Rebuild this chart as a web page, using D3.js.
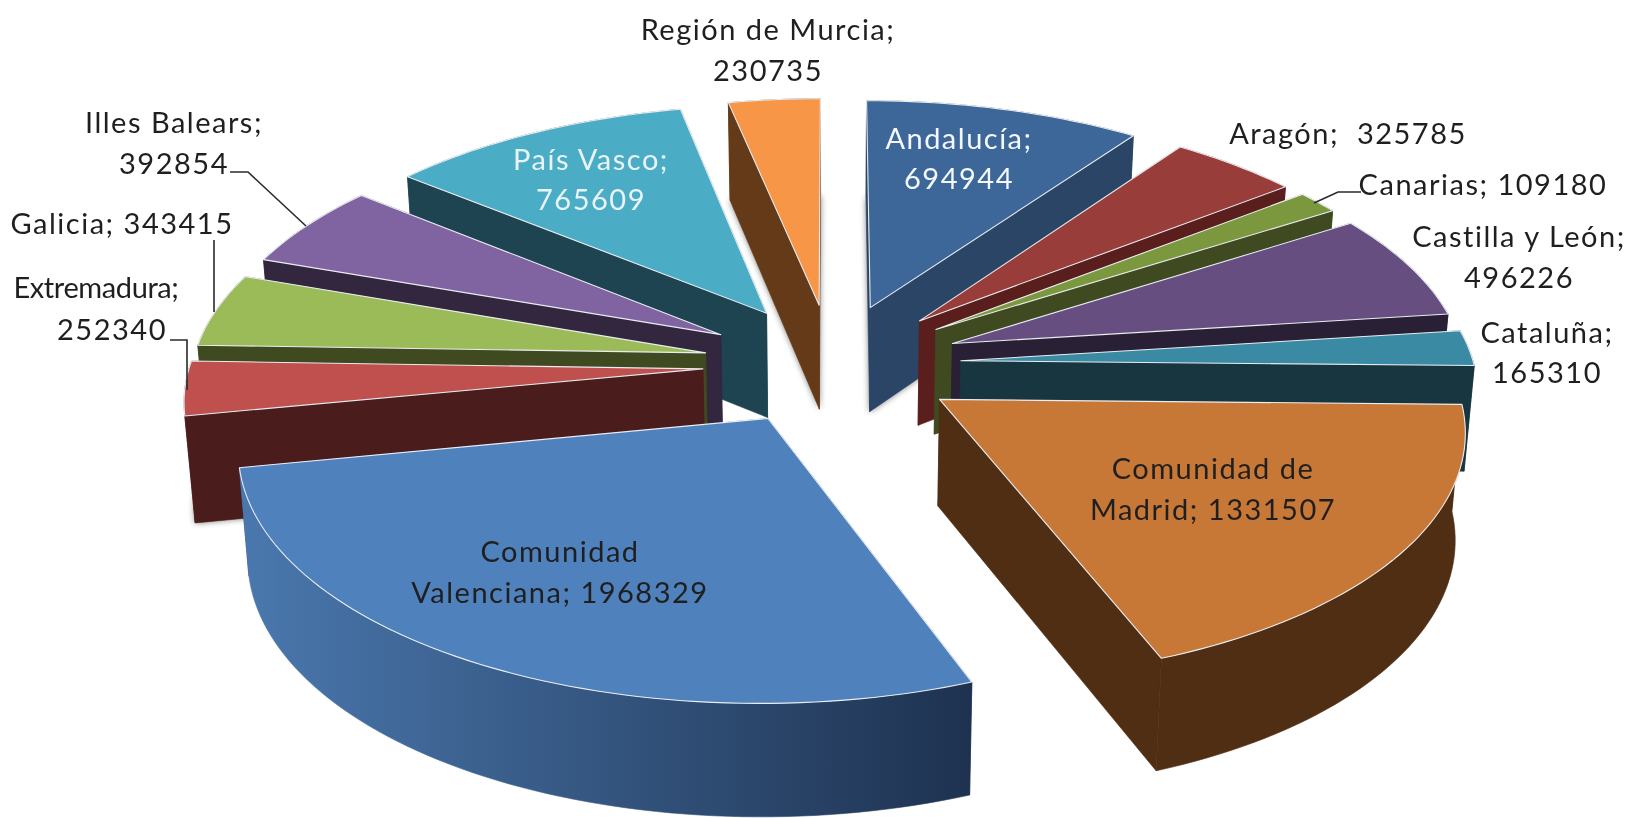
<!DOCTYPE html>
<html><head><meta charset="utf-8">
<script src="https://cdnjs.cloudflare.com/ajax/libs/d3/7.8.5/d3.min.js"></script>
<style>html,body{margin:0;padding:0;background:#fff}svg{display:block;filter:blur(.55px)}text{font-family:Lato,sans-serif;font-size:29px;letter-spacing:1.5px;fill:#1f1f1f;text-anchor:middle;dominant-baseline:central}</style>
</head><body><svg id="c" width="1626" height="818"></svg>
<script>
const categories=["Andalucía","Aragón","Canarias","Castilla y León","Cataluña","Comunidad de Madrid","Comunidad Valenciana","Extremadura","Galicia","Illes Balears","País Vasco","Región de Murcia"];
const values=[694944,325785,109180,496226,165310,1331507,1968329,252340,343415,392854,765609,230735];
const topColors=["#3c6798","#983d3a","#7b983f","#664e80","#3b8aa3","#c77836","#4f81bd","#c0504d","#9bbb59","#8064a2","#4bacc6","#f79646"];
const wallColors=["#2a4565","#5a1f1c","#3f4a20","#2a2035","#17363f","#4f2e14","#2f4e75","#4a1c1c","#3f4a20","#33263f","#1d4450","#643a18"];
// label text lines and centres
const labelLines=[["Andalucía;","694944"],["Aragón;  325785"],["Canarias; 109180"],["Castilla y León;","496226"],["Cataluña;","165310"],["Comunidad de","Madrid; 1331507"],["Comunidad","Valenciana; 1968329"],["Extremadura;","252340"],["Galicia; 343415"],["Illes Balears;","392854"],["País Vasco;","765609"],["Región de Murcia;","230735"]];
const labelX=[[959,959],[1348],[1483],[1519,1519],[1547,1547],[1213,1213],[560,560],[96,112],[122],[174,174],[591,591],[768,768]];
const labelY=[[137,177],[132],[183],[235,276],[331,371],[467,508],[550,591],[286,328],[222],[121,162],[158,198],[28,69]];
const labelFill=["#f4f8fc",null,null,null,null,null,null,null,null,null,"#e8f4f8",null];
const tightLabels=["Extremadura;"];
const leaders=[[[1361,192],[1338,192],[1314,203]],[[230,172],[248,172],[306,226]],[[214,240],[214,312]],[[170,340],[187,340],[187,390]]];
const shadowed=[0,7,11];

const cx=832, cy=364, Kx=517, Ky=243, persp=0.11, explode=0.25, radius=0.992, converge=0.016;
const depth=d3.scaleLinear().domain([-1.3,0.25,1.3]).range([114,104,97]);
const svg=d3.select("#c");
const defs=svg.append("defs");
const grad=defs.append("linearGradient").attr("id","valWall");
grad.append("stop").attr("offset","0").attr("stop-color","#4a78ae");
grad.append("stop").attr("offset","1").attr("stop-color","#1e3250");
defs.append("filter").attr("id","soft").attr("x","-20%").attr("y","-20%").attr("width","140%").attr("height","140%")
  .append("feGaussianBlur").attr("stdDeviation",3);

const pie=d3.pie().sort(null).value(d=>d)(values);
function pt(a,r,mid,down){
  const u=r*Math.sin(a)+explode*Math.sin(mid), v=r*Math.cos(a)+explode*Math.cos(mid);
  const s=1/(1+persp*v);
  const x=cx+Kx*u*s, y=cy-Ky*v*s;
  return down?[x+(cx-x)*converge, y+depth(v)]:[x,y];
}
const line=d3.line();
const order=pie.map((d,i)=>({d,i,mid:(d.startAngle+d.endAngle)/2})).sort((a,b)=>Math.cos(b.mid)-Math.cos(a.mid));
order.forEach(({d,i,mid})=>{
  const g=svg.append("g");
  const n=Math.max(8,Math.round((d.endAngle-d.startAngle)*40));
  const as=d3.range(n+1).map(k=>d.startAngle+(d.endAngle-d.startAngle)*k/n);
  const wall=wallColors[i];
  const poly=(pts,fill)=>g.append("path").attr("d",line(pts)+"Z").attr("fill",fill).attr("stroke",fill).attr("stroke-width",.6);
  const apex=pt(0,0,mid,false), apexB=pt(0,0,mid,true);
  if(shadowed.includes(i)){
    g.append("path").attr("d",line([apexB].concat(as.map(a=>pt(a,radius,mid,true))))+"Z").attr("fill","#555").attr("opacity",.8).attr("filter","url(#soft)");
  }
  [d.startAngle,d.endAngle].sort((a,b)=>Math.cos(b)-Math.cos(a)).forEach(a=>{
    poly([apex,pt(a,radius,mid,false),pt(a,radius,mid,true),apexB],wall);
  });
  poly(as.map(a=>pt(a,radius,mid,false)).concat(as.slice().reverse().map(a=>pt(a,radius,mid,true))),i===6?"url(#valWall)":wall);
  g.append("path").attr("d",line([apex].concat(as.map(a=>pt(a,radius,mid,false))))+"Z").attr("fill",topColors[i]).attr("stroke","#e9edf2").attr("stroke-width",1.1).attr("stroke-linejoin","round");
});
leaders.forEach(l=>svg.append("path").attr("d",line(l)).attr("fill","none").attr("stroke","#2a2a2a").attr("stroke-width",1.6));
labelLines.forEach((ls,i)=>ls.forEach((t,j)=>{
  svg.append("text").attr("x",labelX[i][j]).attr("y",labelY[i][j]).text(t).style("fill",labelFill[i]).style("white-space","pre")
    .style("letter-spacing",tightLabels.includes(t)?"-0.4px":null);
}));
</script></body></html>
